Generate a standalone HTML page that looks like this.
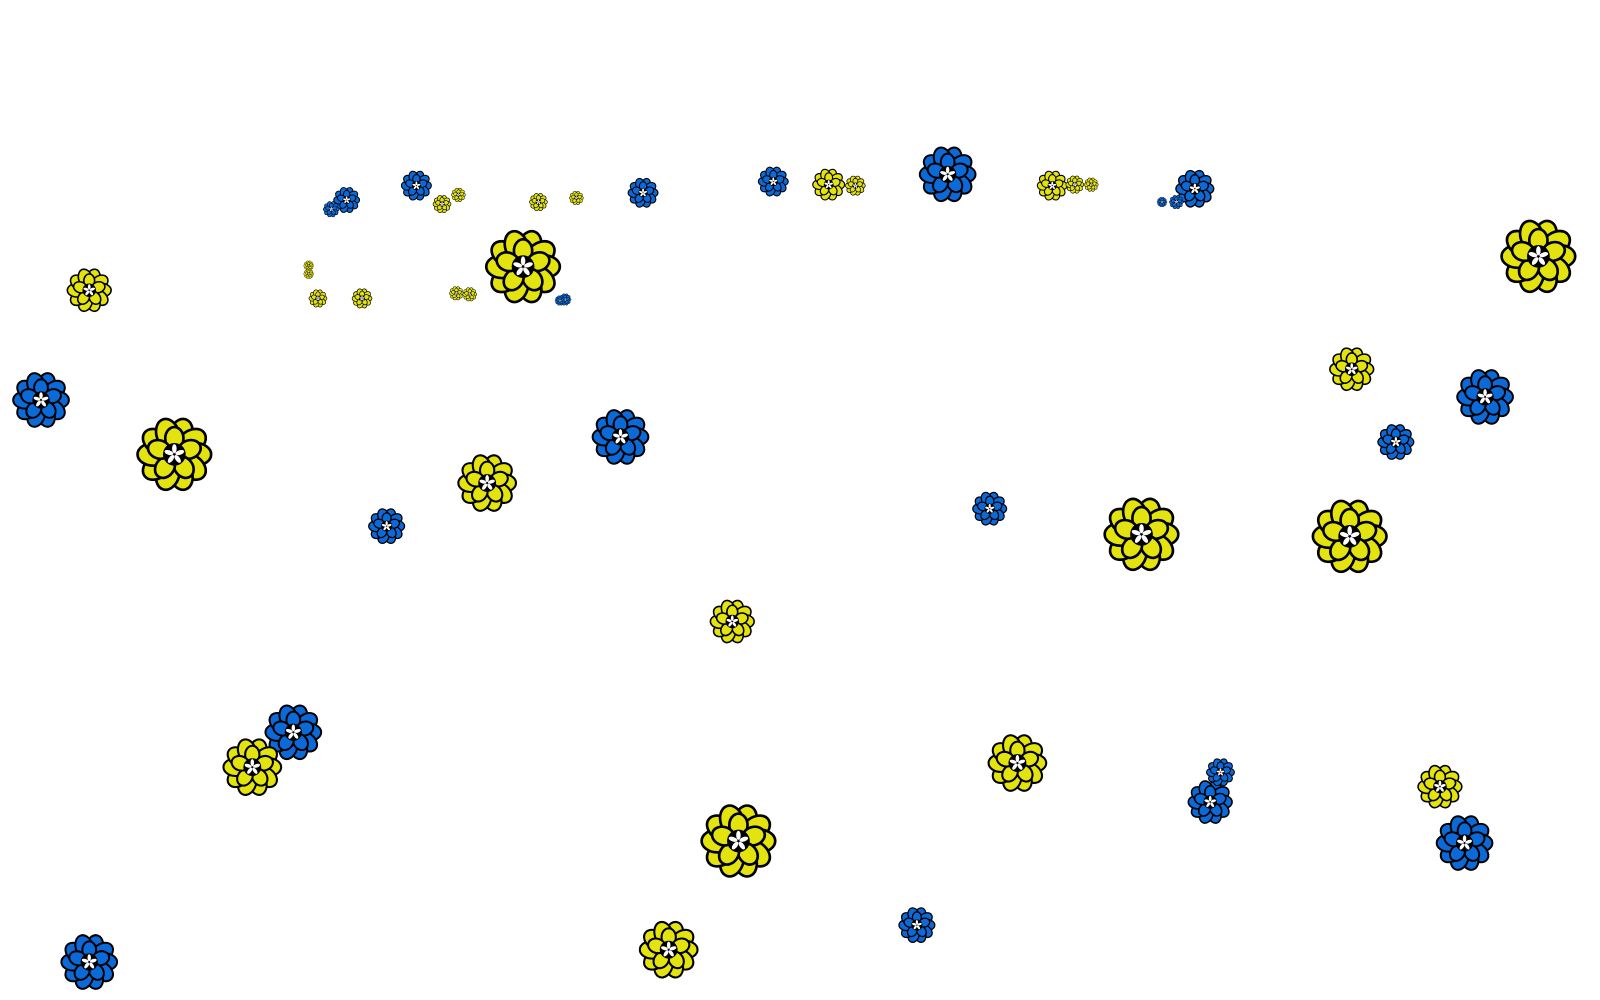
<!DOCTYPE html>
<html><head><meta charset="utf-8"><style>html,body{margin:0;padding:0;background:#fff;width:1600px;height:1000px;overflow:hidden}</style></head>
<body>
<svg width="1600" height="1000" viewBox="0 0 1600 1000" xmlns="http://www.w3.org/2000/svg">
<defs>
<g id="petals">
<g stroke="#000" stroke-width="0.07">
<ellipse cx="0" cy="-0.55" rx="0.3" ry="0.42" transform="rotate(18)"/>
<ellipse cx="0" cy="-0.55" rx="0.3" ry="0.42" transform="rotate(54)"/>
<ellipse cx="0" cy="-0.55" rx="0.3" ry="0.42" transform="rotate(90)"/>
<ellipse cx="0" cy="-0.55" rx="0.3" ry="0.42" transform="rotate(126)"/>
<ellipse cx="0" cy="-0.55" rx="0.3" ry="0.42" transform="rotate(162)"/>
<ellipse cx="0" cy="-0.55" rx="0.3" ry="0.42" transform="rotate(198)"/>
<ellipse cx="0" cy="-0.55" rx="0.3" ry="0.42" transform="rotate(234)"/>
<ellipse cx="0" cy="-0.55" rx="0.3" ry="0.42" transform="rotate(270)"/>
<ellipse cx="0" cy="-0.55" rx="0.3" ry="0.42" transform="rotate(306)"/>
<ellipse cx="0" cy="-0.55" rx="0.3" ry="0.42" transform="rotate(342)"/>
<ellipse cx="0" cy="-0.42" rx="0.24" ry="0.3" transform="rotate(0)"/>
<ellipse cx="0" cy="-0.42" rx="0.24" ry="0.3" transform="rotate(72)"/>
<ellipse cx="0" cy="-0.42" rx="0.24" ry="0.3" transform="rotate(144)"/>
<ellipse cx="0" cy="-0.42" rx="0.24" ry="0.3" transform="rotate(216)"/>
<ellipse cx="0" cy="-0.42" rx="0.24" ry="0.3" transform="rotate(288)"/>
</g>
<circle r="0.3" fill="#000"/>
<g fill="#fff">
<ellipse cx="0" cy="-0.15" rx="0.06" ry="0.12"/>
<ellipse cx="0" cy="-0.15" rx="0.06" ry="0.12" transform="rotate(72)"/>
<ellipse cx="0" cy="-0.15" rx="0.06" ry="0.12" transform="rotate(144)"/>
<ellipse cx="0" cy="-0.15" rx="0.06" ry="0.12" transform="rotate(216)"/>
<ellipse cx="0" cy="-0.15" rx="0.06" ry="0.12" transform="rotate(288)"/>
</g>
</g>
<g id="Y" fill="#e3e310"><use href="#petals"/></g>
<g id="B" fill="#0b6ad8"><use href="#petals"/></g>
</defs>
<g id="all" transform="scale(1.0256)"></g>
<script>
var d=[
["Y",510,260,37],["Y",170,443,37],["Y",1500,250,37],["Y",1113,521,37],["Y",1316,523,37],["Y",720,820,37],
["B",40,390,28],["B",605,426,28],["B",924,170,28],["B",286,714,28],["B",87,938,28],["B",1448,387,28],["B",1428,822,28],
["Y",475,471,29],["Y",246,748,29],["Y",992,744,29],["Y",652,926,29],
["Y",87,283,22],["Y",714,606,22],["Y",1318,360,22],["Y",1404,767,22],
["B",377,513,18],["B",965,496,17],["B",1361,431,18],["B",894,902,18],["B",1180,782,22],["B",1190,753,14],
["B",406,181,15],["B",627,188,15],["B",754,177,15],["B",1165,184,19],["B",338,195,13],["B",323,204,8],["B",1147,197,7],["B",1133,197,5],
["Y",808,180,16],["Y",834,181,10],["Y",1026,181,15],["Y",1048,180,9],["Y",1064,180,7],["Y",431,199,9],["Y",447,190,7],["Y",525,197,9],["Y",562,193,7],
["Y",301,259,5],["Y",301,267,5],["Y",310,291,9],["Y",353,291,10],["Y",445,286,7],["Y",458,287,7],["B",551,292,6],["B",546,293,5]
];
var g=document.getElementById("all"),ns="http://www.w3.org/2000/svg";
d.forEach(function(f){var u=document.createElementNS(ns,"use");u.setAttribute("href","#"+f[0]);u.setAttribute("transform","translate("+f[1]+","+f[2]+") scale("+f[3]+")");g.appendChild(u);});
</script>
</svg>
</body></html>
